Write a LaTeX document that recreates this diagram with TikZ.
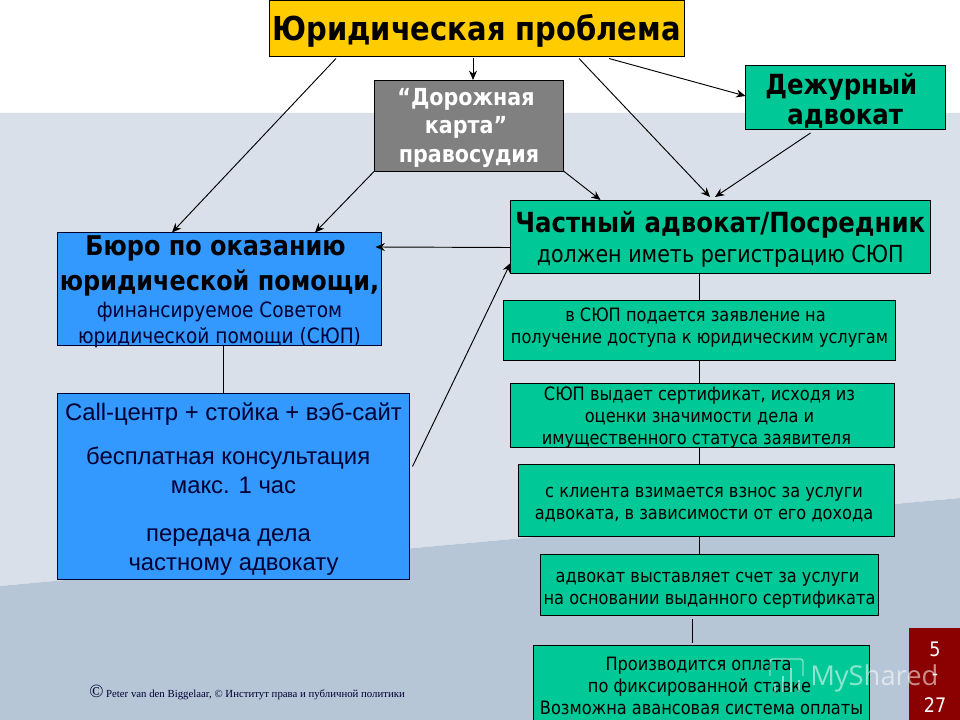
\documentclass[tikz,border=0pt]{standalone}
\usepackage{fontspec}
\usetikzlibrary{arrows.meta}
\setmainfont[FakeStretch=0.88]{DejaVu Sans}
\newfontfamily\arialf{Liberation Sans}
\newfontfamily\timesf{Liberation Serif}
\newfontfamily\wmf{Open Sans}
\definecolor{bgmid}{HTML}{D9E0EA}
\definecolor{bglow}{HTML}{B7C6D7}
\definecolor{gold}{HTML}{FFCC00}
\definecolor{teal}{HTML}{00C896}
\definecolor{azure}{HTML}{3399FF}
\definecolor{slate}{HTML}{808080}
\definecolor{wine}{HTML}{8B0000}
\definecolor{navy}{HTML}{000033}
% box text: #1 raise (pt), #2 font commands, #3 baseline (pt), #4 lines
\newcommand\tb[4]{\makebox[0pt]{\raisebox{#1pt}[0pt][0pt]{#2\fontsize{10}{#3}\selectfont\sizedlines{#4}}}}
\newcommand\sizedlines[1]{\begin{tabular}[c]{@{}c@{}}#1\end{tabular}}
\newcommand\fs[1]{\fontsize{#1}{#1}\selectfont}
\newcommand\lft[1]{\hspace*{#1pt}}
\newcommand\cn[3]{([xshift=#2*0.75pt,yshift=#3*-0.75pt]#1)}
\tikzset{
  x=0.75pt,y=-0.75pt,
  boxat/.style n args={4}{minimum width={(#3-#1)*0.75pt},minimum height={(#4-#2)*0.75pt},
     at={({(#1+#3)/2},{(#2+#4)/2})}},
  panel/.style={draw=black,line width=0.7pt,inner sep=0pt,outer sep=0pt,text=black},
  goldbox/.style={panel,fill=gold},
  tealbox/.style={panel,fill=teal},
  bluebox/.style={panel,fill=azure,draw=navy},
  greybox/.style={panel,fill=slate,text=white},
  arrowline/.style={draw=black,line width=0.7pt,-{Stealth[length=7pt,width=6pt]}},
  plainline/.style={draw=black,line width=0.7pt},
}
\begin{document}
\begin{tikzpicture}
\clip (0,0) rectangle (960,720);
\fill[white] (0,0) rectangle (960,720);
\fill[bgmid] (0,113) -- (960,113) -- (960,498) -- (0,586) -- cycle;
\fill[bglow] (0,586) -- (960,498) -- (960,720) -- (0,720) -- cycle;
\node[panel,fill=wine,draw=none,boxat={908.5}{627.5}{960}{720}] (pg) {};
\node[anchor=center,text=white,inner sep=0pt] (pga) at (935,649) {\fs{15}5};
\node[anchor=center,text=white,inner sep=0pt] (pgb) at (935,677) {\fs{15}-};
\node[anchor=center,text=white,inner sep=0pt] (pgc) at (935,705) {\fs{15}27};

\node[goldbox,boxat={269}{0.5}{684}{56}] (top) {\tb{-4.5}{\bfseries}{12}{\fs{24.7}Юридическая проблема}};
\node[greybox,boxat={374.5}{80}{563.5}{171}] (road) {\tb{-4.5}{\bfseries}{21.5}{\fs{17.6}“Дорожная\lft{4.5}\\\fs{17.6}карта”\lft{4.5}\\\fs{17.6}правосудия}};
\node[tealbox,boxat={745.5}{65}{945}{129.5}] (duty) {\tb{-7}{\bfseries}{23}{\fs{20.8}Дежурный\lft{6}\\\fs{20.8}адвокат}};
\node[tealbox,boxat={510.5}{200}{930}{273.5}] (priv) {\tb{-6}{}{22.5}{\fs{20.8}\bfseries Частный адвокат/Посредник\\\fs{17.6}должен иметь регистрацию СЮП}};
\node[bluebox,boxat={57.5}{232.5}{381.5}{345}] (bur) {\tb{-6}{}{19.5}{\fs{20.4}\bfseries Бюро по оказанию\lft{6}\\[4.5pt]\fs{20.4}\bfseries юридической помощи,\\[0.75pt]\fs{15.8}\color{navy}финансируемое Советом\\\fs{15.8}\color{navy}юридической помощи (СЮП)}};
\node[bluebox,boxat={57.5}{393.5}{409.5}{579},text=navy] (call) {\tb{-5}{\arialf}{22}{\fs{17.9}Call-центр + стойка + вэб-сайт\\[11pt]\fs{17.9}бесплатная консультация\lft{8}\\\fs{17.9}макс. 1 час\\[14pt]\fs{17.9}передача дела\lft{7.5}\\\fs{17.9}частному адвокату}};
\node[tealbox,boxat={503.5}{300.5}{895.5}{360.5}] (sa) {\tb{-1}{}{16.5}{\fs{13.8}в СЮП подается заявление на\lft{6}\\\fs{13.8}получение доступа к юридическим услугам}};
\node[tealbox,boxat={510.5}{383.5}{894.5}{447}] (sb) {\tb{-4.5}{}{16.5}{\fs{13.8}СЮП выдает сертификат, исходя из\lft{4.5}\\\fs{13.8}оценки значимости дела и\lft{4.5}\\\fs{13.8}имущественного статуса заявителя\lft{9}}};
\node[tealbox,boxat={518.5}{464.5}{894.5}{536.5}] (sc) {\tb{-5}{}{16.5}{\fs{13.8}с клиента взимается взнос за услуги\lft{3.75}\\\fs{13.8}адвоката, в зависимости от его дохода\lft{3.75}}};
\node[tealbox,boxat={540.5}{554}{878.5}{615.5}] (sd) {\tb{-6}{}{16.5}{\fs{13.8}адвокат выставляет счет за услуги\lft{3}\\\fs{13.8}на основании выданного сертификата}};
\node[tealbox,boxat={533.5}{645.5}{869.5}{730}] (se) {\tb{-2.5}{}{16.5}{\fs{13.8}Производится оплата\lft{4.5}\\\fs{13.8}по фиксированной ставке\lft{3}\\\fs{13.8}Возможна авансовая система оплаты}};

\draw[arrowline] \cn{top.south west}{67}{2.5} -- \cn{bur.north west}{114.5}{0};
\draw[arrowline] \cn{top.south west}{204}{2.5} -- \cn{road.north west}{98.5}{0};
\draw[arrowline] \cn{top.south west}{310}{2.5} -- \cn{priv.north west}{199.5}{-3};
\draw[arrowline] \cn{top.south west}{340}{2.5} -- \cn{duty.north west}{0}{31};
\draw[arrowline] \cn{duty.south west}{65}{3.5} -- \cn{priv.north west}{204.5}{-3};
\draw[arrowline] (road.south west) -- \cn{bur.north east}{-66.5}{0};
\draw[arrowline] (road.south east) -- \cn{priv.north west}{90}{0};
\draw[arrowline] \cn{priv.north west}{0}{47.5} -- \cn{bur.north east}{-6}{14.5};
\draw[arrowline] \cn{call.north east}{3}{73} -- \cn{priv.north west}{0}{63};
\draw[plainline] \cn{bur.south west}{166}{0} -- \cn{call.north west}{166}{0};
\draw[plainline] \cn{priv.south west}{189}{0} -- \cn{sa.north west}{196}{0};
\draw[plainline] \cn{sa.south west}{196}{0} -- \cn{sb.north west}{189}{0};
\draw[plainline] \cn{sb.south west}{189}{0} -- \cn{sc.north west}{181}{0};
\draw[plainline] \cn{sc.south west}{181}{0} -- \cn{sd.north west}{159}{0};
\draw[plainline] \cn{sd.south west}{152}{3.5} -- \cn{se.north west}{159}{-2.5};

\node[anchor=base west,inner sep=0pt,text=navy] (foot) at (89,697) {\timesf\fs{14}©\hspace{2pt}\fs{8.1}Peter van den Biggelaar, © Институт права и публичной политики};

\begin{scope}[white,opacity=0.5,line width=1pt]
\draw[rounded corners=2pt] (770,676) -- (770,659) -- (803,659) -- (803,676);
\draw (775,692) -- (775,684) (783,692) -- (783,676) (791,692) -- (791,668) (799,692) -- (799,680);
\end{scope}
\node[anchor=base west,inner sep=0pt,text=white,text opacity=0.55] (wm) at (810,685) {\wmf\fs{20.5}MyShared};
\end{tikzpicture}
\end{document}
